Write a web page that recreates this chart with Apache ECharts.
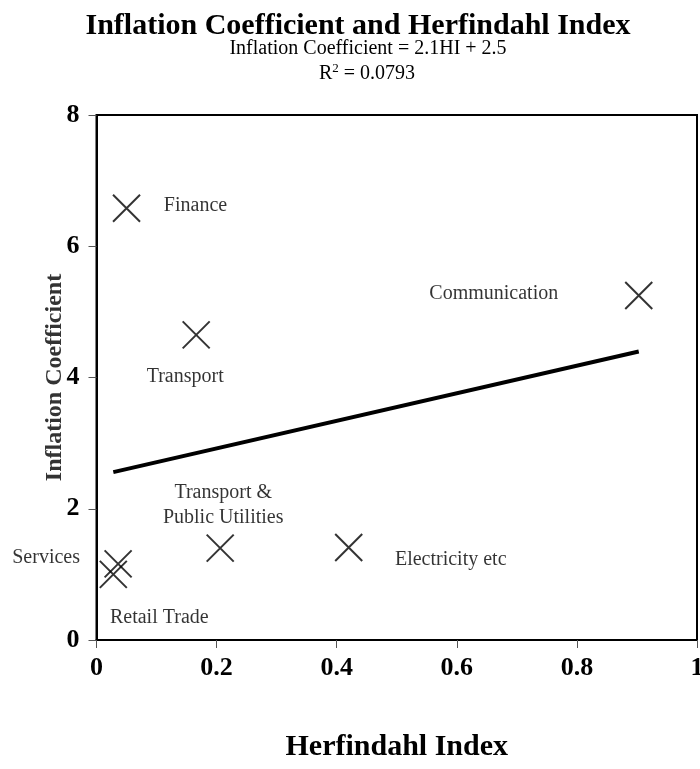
<!DOCTYPE html>
<html>
<head>
<meta charset="utf-8">
<script src="https://cdn.jsdelivr.net/npm/echarts@6/dist/echarts.min.js"></script>
<style>html,body{margin:0;padding:0;background:#fff}#c{width:700px;height:769px}</style>
</head>
<body>
<div id="c"></div>
<script>
const categories = ['Finance', 'Transport', 'Communication', 'Transport &\nPublic Utilities', 'Services', 'Retail Trade', 'Electricity etc'];
const herfindahl = [0.05, 0.166, 0.903, 0.206, 0.036, 0.028, 0.42];
const inflation = [6.58, 4.65, 5.25, 1.40, 1.16, 1.00, 1.41];
const trendSlope = 2.1;
const trendIntercept = 2.5;
const rSquared = '0.0793';
const xTickValues = [0, 0.2, 0.4, 0.6, 0.8, 1];
const yTickValues = [0, 2, 4, 6, 8];

const SERIF = '"Liberation Serif", "Times New Roman", serif';
const labelOffsets = {
  'Finance': [69, -2],
  'Transport': [-11, 42],
  'Communication': [-145, -2],
  'Transport &\nPublic Utilities': [3, -43],
  'Services': [-72, -6],
  'Retail Trade': [46, 43],
  'Electricity etc': [102, 12]
};

const points = categories.map((c, i) => ({
  name: c,
  value: [herfindahl[i], inflation[i]],
  label: { offset: labelOffsets[c] }
}));
const xMin = Math.min(...herfindahl), xMax = Math.max(...herfindahl);
const trend = [[xMin, trendSlope * xMin + trendIntercept], [xMax, trendSlope * xMax + trendIntercept]];

const chart = echarts.init(document.getElementById('c'), null, { renderer: 'canvas' });
chart.setOption({
  backgroundColor: '#fff',
  animation: false,
  graphic: [
    { type: 'text', x: 358, y: 26, style: { text: 'Inflation Coefficient and Herfindahl Index', font: 'bold 30px ' + SERIF, fill: '#000', align: 'center', verticalAlign: 'middle' } },
    { type: 'text', x: 368, y: 49, style: { text: 'Inflation Coefficient = ' + trendSlope + 'HI + ' + trendIntercept, font: '20px ' + SERIF, fill: '#000', align: 'center', verticalAlign: 'middle' } },
    { type: 'text', x: 367, y: 74, style: { text: '{a|R}{s|2}{a| = ' + rSquared + '}', align: 'center', verticalAlign: 'middle',
      rich: { a: { fontFamily: SERIF, fontSize: 20, fill: '#000', color: '#000' }, s: { fontFamily: SERIF, fontSize: 13, color: '#000', fill: '#000', verticalAlign: 'top', padding: [0, 0, 10, 0] } } } }
  ],
  grid: { left: 96.5, right: 3, top: 115, bottom: 129, outerBoundsMode: 'none', containLabel: false, show: true, borderColor: '#000', borderWidth: 2, backgroundColor: 'transparent' },
  xAxis: {
    type: 'value', min: 0, max: 1, interval: 0.2,
    name: 'Herfindahl Index', nameLocation: 'middle', nameGap: 92, nameMoveOverlap: false,
    nameTextStyle: { fontFamily: SERIF, fontWeight: 'bold', fontSize: 30, color: '#000' },
    axisLine: { show: true, onZero: false, lineStyle: { color: '#000', width: 2 } },
    axisTick: { show: true, inside: false, length: 8, lineStyle: { color: '#555', width: 1 } },
    axisLabel: { margin: 15, fontFamily: SERIF, fontWeight: 'bold', fontSize: 26, color: '#000', formatter: v => xTickValues.includes(v) ? String(v) : '' },
    splitLine: { show: false }
  },
  yAxis: {
    type: 'value', min: 0, max: 8, interval: 2,
    name: 'Inflation Coefficient', nameLocation: 'middle', nameGap: 30, nameRotate: 90, nameMoveOverlap: false,
    nameTextStyle: { fontFamily: SERIF, fontWeight: 'bold', fontSize: 24, color: '#333' },
    axisLine: { show: true, onZero: false, lineStyle: { color: '#000', width: 2 } },
    axisTick: { show: true, inside: false, length: 8, lineStyle: { color: '#555', width: 1 } },
    axisLabel: { margin: 17, fontFamily: SERIF, fontWeight: 'bold', fontSize: 26, color: '#000', formatter: v => yTickValues.includes(v) ? String(v) : '' },
    splitLine: { show: false }
  },
  series: [
    {
      type: 'line', data: trend, symbol: 'none', silent: true,
      lineStyle: { color: '#000', width: 4 }, z: 2
    },
    {
      type: 'scatter', data: points,
      symbol: 'path://M0,0L10,10M10,0L0,10', symbolSize: 27, symbolKeepAspect: true,
      itemStyle: { color: 'transparent', borderColor: '#000', borderWidth: 2 },
      label: {
        show: true, position: 'inside', formatter: p => p.name,
        fontFamily: SERIF, fontSize: 20, color: '#000', textBorderWidth: 0, align: 'center', verticalAlign: 'middle', lineHeight: 25
      },
      z: 3
    }
  ]
});
</script>
</body>
</html>
